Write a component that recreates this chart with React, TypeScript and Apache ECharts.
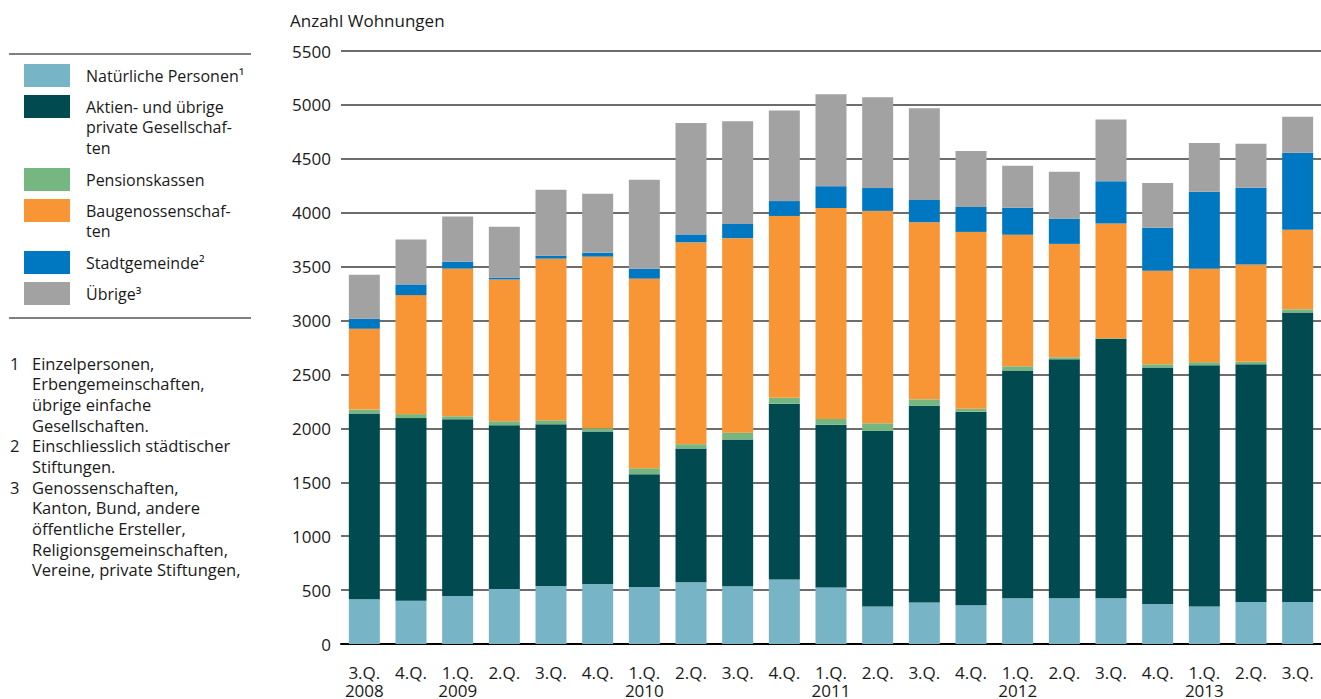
import React, { useEffect, useRef } from "react";
import * as echarts from "echarts";

const quarters = ["3.Q.", "4.Q.", "1.Q.", "2.Q.", "3.Q.", "4.Q.", "1.Q.", "2.Q.", "3.Q.", "4.Q.", "1.Q.", "2.Q.", "3.Q.", "4.Q.", "1.Q.", "2.Q.", "3.Q.", "4.Q.", "1.Q.", "2.Q.", "3.Q."];
const years = ["2008", "", "2009", "", "", "", "2010", "", "", "", "2011", "", "", "", "2012", "", "", "", "2013", "", ""];

const seriesNames = [
  "Natürliche Personen¹",
  "Aktien- und übrige private Gesellschaften",
  "Pensionskassen",
  "Baugenossenschaften",
  "Stadtgemeinde²",
  "Übrige³",
];
const legendLabels = [
  "Natürliche Personen¹",
  "Aktien- und übrige\nprivate Gesellschaf-\nten",
  "Pensionskassen",
  "Baugenossenschaf-\nten",
  "Stadtgemeinde²",
  "Übrige³",
];
const colors = ["#76b4c6", "#014a4f", "#76b680", "#f89535", "#0078c1", "#a3a2a3"];

const natuerlich = [415, 400, 445, 510, 537, 556, 528, 572, 535, 599, 525, 347, 384, 360, 425, 425, 425, 370, 347, 390, 390];
const aktien = [1722, 1695, 1639, 1519, 1500, 1416, 1046, 1241, 1361, 1630, 1509, 1629, 1825, 1795, 2111, 2215, 2405, 2195, 2238, 2204, 2685];
const pension = [37, 37, 28, 37, 37, 28, 56, 40, 64, 54, 54, 71, 60, 27, 39, 19, 5, 29, 29, 23, 29];
const baugenossen = [750, 1104, 1370, 1315, 1500, 1593, 1759, 1872, 1804, 1687, 1956, 1970, 1643, 1640, 1221, 1052, 1066, 867, 867, 903, 737];
const stadt = [93, 99, 65, 18, 28, 37, 92, 74, 132, 138, 202, 212, 206, 232, 250, 234, 390, 400, 714, 711, 715];
const uebrige = [407, 417, 417, 472, 611, 546, 825, 1034, 952, 841, 852, 842, 852, 518, 389, 435, 574, 415, 451, 409, 334];

const footnotes = [
  { num: "1", text: "Einzelpersonen,\nErbengemeinschaften,\nübrige einfache\nGesellschaften." },
  { num: "2", text: "Einschliesslich städtischer\nStiftungen." },
  { num: "3", text: "Genossenschaften,\nKanton, Bund, andere\nöffentliche Ersteller,\nReligionsgemeinschaften,\nVereine, private Stiftungen," },
];

const FONT = "'Open Sans', 'Noto Sans', sans-serif";
const TEXT = "#1a1a1a";

export default function App() {
  const ref = useRef<HTMLDivElement>(null);

  useEffect(() => {
    if (!ref.current) return;
    const chart = echarts.init(ref.current, null, { renderer: "svg" });
    const allData = [natuerlich, aktien, pension, baugenossen, stadt, uebrige];
    const categories = quarters.map((q, i) => (years[i] ? q + "\n" + years[i] : q));

    const graphics: any[] = [];
    graphics.push({ type: "line", shape: { x1: 9, y1: 54, x2: 251, y2: 54 }, style: { stroke: "#555", lineWidth: 1.5 } });
    graphics.push({ type: "line", shape: { x1: 9, y1: 318, x2: 251, y2: 318 }, style: { stroke: "#555", lineWidth: 1.5 } });
    const swatchY = [64, 95, 168, 199, 251, 282];
    const LH = 20.5;
    legendLabels.forEach((lab, i) => {
      graphics.push({ type: "rect", shape: { x: 24, y: swatchY[i], width: 46, height: 23 }, style: { fill: colors[i] } });
      graphics.push({
        type: "text",
        x: 86,
        y: swatchY[i] + 11.5 - LH / 2,
        style: { text: lab, fill: TEXT, font: `16px ${FONT}`, lineHeight: LH, verticalAlign: "top" },
      });
    });
    const FLH = 20.7;
    let line = 0;
    footnotes.forEach((f) => {
      const y = 363 + line * FLH - FLH / 2;
      graphics.push({ type: "text", x: 10, y, style: { text: f.num, fill: TEXT, font: `16.5px ${FONT}`, lineHeight: FLH, verticalAlign: "top" } });
      graphics.push({ type: "text", x: 32, y, style: { text: f.text, fill: TEXT, font: `16.5px ${FONT}`, lineHeight: FLH, verticalAlign: "top" } });
      line += f.text.split("\n").length;
    });

    chart.setOption({
      animation: false,
      title: {
        text: "Anzahl Wohnungen",
        left: 290,
        top: 9,
        padding: 0,
        textStyle: { fontFamily: FONT, fontSize: 17, fontWeight: "normal", color: TEXT, lineHeight: 22 },
      },
      grid: { left: 341, top: 51, width: 986, height: 594, containLabel: false },
      xAxis: {
        type: "category",
        data: categories,
        axisLine: { show: true, lineStyle: { color: "#000", width: 2 } },
        axisTick: { show: false },
        axisLabel: {
          interval: 0,
          margin: 19,
          fontFamily: FONT,
          fontSize: 17,
          lineHeight: 18,
          color: TEXT,
          align: "center",
        },
      },
      yAxis: {
        type: "value",
        min: 0,
        max: 5500,
        interval: 500,
        axisLine: { show: false },
        axisTick: { show: false },
        axisLabel: { margin: 10, fontFamily: FONT, fontSize: 17, color: TEXT, formatter: (v: number) => String(v) },
        splitLine: { lineStyle: { color: "#3c3c3c", width: 1.5 } },
      },
      series: allData.map((d, i) => ({
        name: seriesNames[i],
        type: "bar",
        stack: "total",
        barWidth: 31,
        data: d,
        itemStyle: { color: colors[i] },
      })),
      graphic: graphics,
    });
    return () => chart.dispose();
  }, []);

  return <div ref={ref} style={{ position: "absolute", left: 0, top: 0, width: 1321, height: 699 }} />;
}
